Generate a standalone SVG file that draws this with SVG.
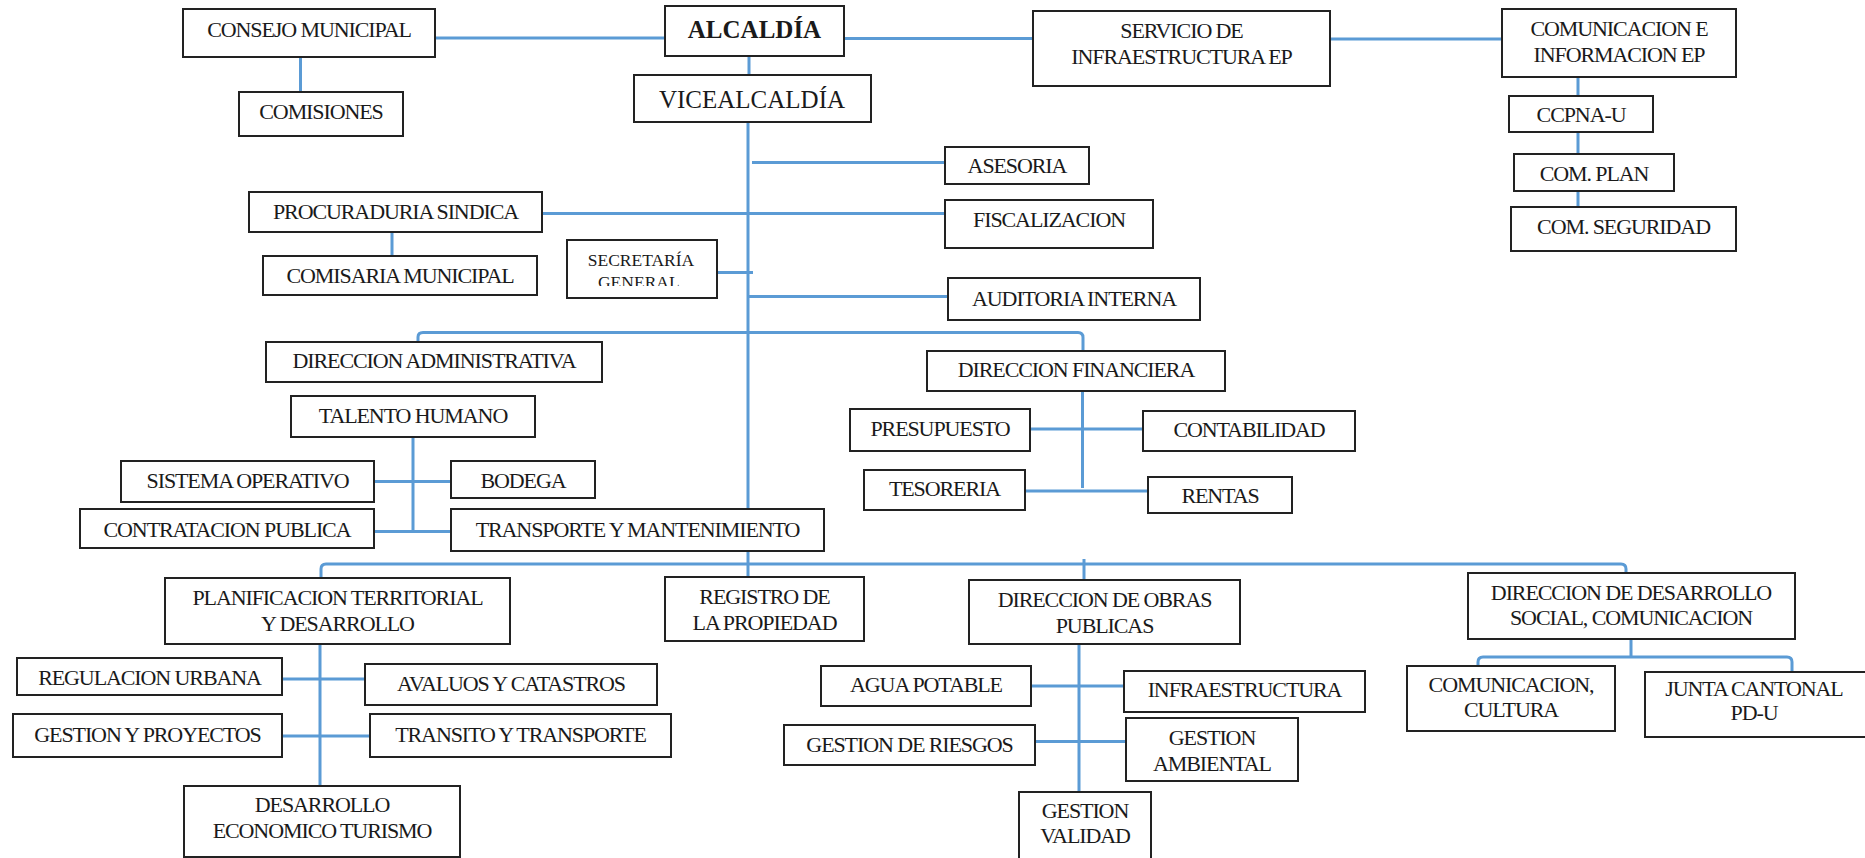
<svg xmlns="http://www.w3.org/2000/svg" width="1865" height="858" viewBox="0 0 1865 858">
<style>
.box{fill:#fff;stroke:#222;stroke-width:2}
.ln{stroke:#5B9BD5;stroke-width:3;fill:none}
.t{font-family:"Liberation Serif","Times New Roman",serif;font-size:22px;letter-spacing:-1.1px;fill:#1a1a1a;text-anchor:middle}
.big{font-size:25px;letter-spacing:0}
.b{font-weight:bold}
.sm{font-size:17.5px;letter-spacing:0}
</style>
<defs>
<clipPath id="secClip"><rect x="568" y="241" width="148" height="45"/></clipPath>
</defs>
<rect width="1865" height="858" fill="#fff"/>
<g id="connectors">
<path class="ln" d="M435 38H665"/>
<path class="ln" d="M844 38.5H1033"/>
<path class="ln" d="M1330 39H1502"/>
<path class="ln" d="M300.5 57V92"/>
<path class="ln" d="M749 56V75"/>
<path class="ln" d="M1578 77V96M1578 132V154M1578 191V207"/>
<path class="ln" d="M748 122V577"/>
<path class="ln" d="M752 162.5H945"/>
<path class="ln" d="M542 213.5H945"/>
<path class="ln" d="M392 232V256"/>
<path class="ln" d="M717 272.5H753"/>
<path class="ln" d="M748 296.5H948"/>
<path class="ln" d="M418 342V337Q418 332.5 423 332.5H1078Q1083 332.5 1083 337.5V351"/>
<path class="ln" d="M413 437V532M374 481.5H451M374 531.5H451"/>
<path class="ln" d="M1082.5 391V488M1030 429H1143M1025 491H1148"/>
<path class="ln" d="M321 578V569Q321 564 326 564H1621Q1626 564 1626 569V573"/>
<path class="ln" d="M1084 559V580"/>
<path class="ln" d="M320 644V786M282 679H365M282 736H370"/>
<path class="ln" d="M1079 644V792M1031 686H1124M1035 741.5H1126"/>
<path class="ln" d="M1631 639V657M1478 666V662Q1478 657 1483 657H1787Q1792 657 1792 662V672"/>
</g>
<g id="consejo"><rect class="box" x="183" y="9" width="252" height="48"/><text class="t" x="309" y="37">CONSEJO MUNICIPAL</text></g>
<g id="comisiones"><rect class="box" x="239" y="92" width="164" height="44"/><text class="t" x="321" y="119">COMISIONES</text></g>
<g id="alcaldia"><rect class="box" x="665" y="6" width="179" height="50"/><text class="t big b" x="754.5" y="38">ALCALDÍA</text></g>
<g id="vicealcaldia"><rect class="box" x="634" y="75" width="237" height="47"/><text class="t big" x="752" y="108">VICEALCALDÍA</text></g>
<g id="servicio"><rect class="box" x="1033" y="11" width="297" height="75"/><text class="t" x="1181.5" y="38">SERVICIO DE</text><text class="t" x="1181.5" y="64">INFRAESTRUCTURA EP</text></g>
<g id="comunicacion-ep"><rect class="box" x="1502" y="9" width="234" height="68"/><text class="t" x="1619" y="36">COMUNICACION E</text><text class="t" x="1619" y="61.5">INFORMACION EP</text></g>
<g id="ccpna"><rect class="box" x="1509" y="96" width="144" height="36"/><text class="t" x="1581" y="122">CCPNA-U</text></g>
<g id="com-plan"><rect class="box" x="1514" y="154" width="160" height="37"/><text class="t" x="1594" y="180.5">COM. PLAN</text></g>
<g id="com-seguridad"><rect class="box" x="1511" y="207" width="225" height="44"/><text class="t" x="1623.5" y="234">COM. SEGURIDAD</text></g>
<g id="asesoria"><rect class="box" x="945" y="147" width="144" height="37"/><text class="t" x="1017" y="172.5">ASESORIA</text></g>
<g id="fiscalizacion"><rect class="box" x="945" y="200" width="208" height="48"/><text class="t" x="1049" y="226.5">FISCALIZACION</text></g>
<g id="procuraduria"><rect class="box" x="249" y="192" width="293" height="40"/><text class="t" x="395.5" y="219">PROCURADURIA SINDICA</text></g>
<g id="comisaria"><rect class="box" x="263" y="256" width="274" height="39"/><text class="t" x="400" y="282.5">COMISARIA MUNICIPAL</text></g>
<g id="secretaria"><rect class="box" x="567" y="240" width="150" height="58"/><g clip-path="url(#secClip)"><text class="t sm" x="641" y="266">SECRETARÍA</text><text class="t sm" x="641" y="288">GENERAL.</text></g></g>
<g id="auditoria"><rect class="box" x="948" y="278" width="252" height="42"/><text class="t" x="1074" y="306">AUDITORIA INTERNA</text></g>
<g id="dir-administrativa"><rect class="box" x="266" y="342" width="336" height="40"/><text class="t" x="434" y="367.5">DIRECCION ADMINISTRATIVA</text></g>
<g id="dir-financiera"><rect class="box" x="927" y="351" width="298" height="40"/><text class="t" x="1076" y="377">DIRECCION FINANCIERA</text></g>
<g id="talento"><rect class="box" x="291" y="396" width="244" height="41"/><text class="t" x="413" y="422.5">TALENTO HUMANO</text></g>
<g id="sistema"><rect class="box" x="121" y="461" width="253" height="41"/><text class="t" x="247.5" y="488">SISTEMA OPERATIVO</text></g>
<g id="bodega"><rect class="box" x="451" y="461" width="144" height="37"/><text class="t" x="523" y="488">BODEGA</text></g>
<g id="contratacion"><rect class="box" x="80" y="509" width="294" height="39"/><text class="t" x="227" y="536.5">CONTRATACION PUBLICA</text></g>
<g id="transporte"><rect class="box" x="451" y="509" width="373" height="42"/><text class="t" x="637.5" y="536.5">TRANSPORTE Y MANTENIMIENTO</text></g>
<g id="presupuesto"><rect class="box" x="850" y="409" width="180" height="42"/><text class="t" x="940" y="436">PRESUPUESTO</text></g>
<g id="contabilidad"><rect class="box" x="1143" y="411" width="212" height="40"/><text class="t" x="1249" y="437">CONTABILIDAD</text></g>
<g id="tesoreria"><rect class="box" x="864" y="470" width="161" height="40"/><text class="t" x="944.5" y="496">TESORERIA</text></g>
<g id="rentas"><rect class="box" x="1148" y="477" width="144" height="36"/><text class="t" x="1220" y="503">RENTAS</text></g>
<g id="planificacion"><rect class="box" x="165" y="578" width="345" height="66"/><text class="t" x="337.5" y="605">PLANIFICACION TERRITORIAL</text><text class="t" x="337.5" y="630.5">Y DESARROLLO</text></g>
<g id="registro"><rect class="box" x="665" y="577" width="199" height="64"/><text class="t" x="764.5" y="603.5">REGISTRO DE</text><text class="t" x="764.5" y="629.5">LA PROPIEDAD</text></g>
<g id="obras"><rect class="box" x="969" y="580" width="271" height="64"/><text class="t" x="1104.5" y="606.5">DIRECCION DE OBRAS</text><text class="t" x="1104.5" y="632.5">PUBLICAS</text></g>
<g id="desarrollo-social"><rect class="box" x="1468" y="573" width="327" height="66"/><text class="t" x="1631" y="600">DIRECCION DE DESARROLLO</text><text class="t" x="1631" y="625">SOCIAL, COMUNICACION</text></g>
<g id="comunicacion-cultura"><rect class="box" x="1407" y="666" width="208" height="65"/><text class="t" x="1511" y="691.5">COMUNICACION,</text><text class="t" x="1511" y="716.5">CULTURA</text></g>
<g id="junta"><rect class="box" x="1645" y="672" width="222" height="65"/><text class="t" x="1754" y="696">JUNTA CANTONAL</text><text class="t" x="1754" y="720">PD-U</text></g>
<g id="regulacion"><rect class="box" x="17" y="658" width="265" height="37"/><text class="t" x="149.5" y="685">REGULACION URBANA</text></g>
<g id="avaluos"><rect class="box" x="365" y="664" width="292" height="41"/><text class="t" x="511" y="691">AVALUOS Y CATASTROS</text></g>
<g id="gestion-proyectos"><rect class="box" x="13" y="714" width="269" height="43"/><text class="t" x="147.5" y="741.5">GESTION Y PROYECTOS</text></g>
<g id="transito"><rect class="box" x="370" y="714" width="301" height="43"/><text class="t" x="520.5" y="741.5">TRANSITO Y TRANSPORTE</text></g>
<g id="desarrollo-economico"><rect class="box" x="184" y="786" width="276" height="71"/><text class="t" x="322" y="811.5">DESARROLLO</text><text class="t" x="322" y="837.5">ECONOMICO TURISMO</text></g>
<g id="agua"><rect class="box" x="821" y="666" width="210" height="40"/><text class="t" x="926" y="691.5">AGUA POTABLE</text></g>
<g id="infraestructura"><rect class="box" x="1124" y="671" width="241" height="41"/><text class="t" x="1244.5" y="696.5">INFRAESTRUCTURA</text></g>
<g id="riesgos"><rect class="box" x="784" y="725" width="251" height="40"/><text class="t" x="909.5" y="751.5">GESTION DE RIESGOS</text></g>
<g id="ambiental"><rect class="box" x="1126" y="718" width="172" height="63"/><text class="t" x="1212" y="745">GESTION</text><text class="t" x="1212" y="770.5">AMBIENTAL</text></g>
<g id="validad"><rect class="box" x="1019" y="792" width="132" height="80"/><text class="t" x="1085" y="818">GESTION</text><text class="t" x="1085" y="843">VALIDAD</text></g>
</svg>
